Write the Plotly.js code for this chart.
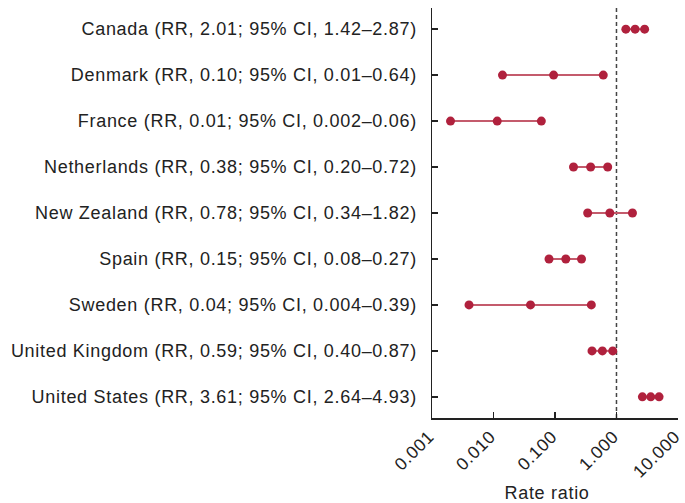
<!DOCTYPE html>
<html>
<head>
<meta charset="utf-8">
<script src="https://cdn.plot.ly/plotly-3.0.1.min.js"></script>
<style>
html,body{margin:0;padding:0;background:#fff;}
#chart{width:685px;height:503px;}
#chart svg text{letter-spacing:0.7px;}
</style>
</head>
<body>
<div id="chart"></div>
<script>
const countries = ["Canada","Denmark","France","Netherlands","New Zealand","Spain","Sweden","United Kingdom","United States"];
const labels = [
  "Canada (RR, 2.01; 95% CI, 1.42–2.87)",
  "Denmark (RR, 0.10; 95% CI, 0.01–0.64)",
  "France (RR, 0.01; 95% CI, 0.002–0.06)",
  "Netherlands (RR, 0.38; 95% CI, 0.20–0.72)",
  "New Zealand (RR, 0.78; 95% CI, 0.34–1.82)",
  "Spain (RR, 0.15; 95% CI, 0.08–0.27)",
  "Sweden (RR, 0.04; 95% CI, 0.004–0.39)",
  "United Kingdom (RR, 0.59; 95% CI, 0.40–0.87)",
  "United States (RR, 3.61; 95% CI, 2.64–4.93)"
];
const rr    = [2.01, 0.095, 0.0115, 0.38, 0.78, 0.15, 0.04, 0.59, 3.61];
const lower = [1.42, 0.014, 0.002, 0.20, 0.34, 0.08, 0.004, 0.40, 2.64];
const upper = [2.87, 0.61, 0.06, 0.72, 1.82, 0.27, 0.39, 0.87, 4.93];
const xTickVals = [0.001, 0.01, 0.1, 1, 10];
const xTickText = ["0.001", "0.010", "0.100", "1.000", "10.000"];
const xTitle = "Rate ratio";

const xs = [], ys = [];
for (let i = 0; i < labels.length; i++) {
  xs.push(lower[i], rr[i], upper[i], null);
  ys.push(labels[i], labels[i], labels[i], null);
}
const red = "#B0213D";
const trace = {
  type: "scatter", mode: "lines+markers",
  x: xs, y: ys, connectgaps: false,
  line: {color: "#C45B6C", width: 2},
  marker: {color: red, size: 9, line: {width: 0}},
  hoverinfo: "skip", showlegend: false
};
const fam = "Liberation Sans, Arial, sans-serif";
const layout = {
  width: 685, height: 503,
  margin: {l: 432, r: 7, t: 8, b: 85},
  paper_bgcolor: "#fff", plot_bgcolor: "#fff",
  font: {family: fam, color: "#222"},
  xaxis: {
    type: "log", range: [-3, 1.0005],
    tickvals: xTickVals, ticktext: xTickText,
    tickangle: -45, tickfont: {size: 17.5, family: fam, color: "#222"},
    ticklabeloverflow: "allow", ticklabelshift: -3,
    ticks: "inside", ticklen: 6, tickwidth: 1.5, tickcolor: "#222",
    showline: true, linecolor: "#222", linewidth: 1.5,
    showgrid: false, zeroline: false
  },
  yaxis: {
    type: "category", categoryorder: "array", categoryarray: labels,
    range: [8.46, -0.46],
    tickfont: {size: 18, family: fam, color: "#222"},
    ticks: "inside", ticklen: 6, tickwidth: 1.5, tickcolor: "#222",
    ticklabelstandoff: 10,
    showline: true, linecolor: "#222", linewidth: 1.5,
    showgrid: false, zeroline: false
  },
  annotations: [{
    text: xTitle, xref: "paper", yref: "paper", x: 0.467, y: 0,
    xanchor: "center", yanchor: "middle", yshift: -75, showarrow: false,
    font: {size: 18, family: fam, color: "#222"}
  }],
  shapes: [{
    type: "line", xref: "x", yref: "paper", x0: 1, x1: 1, y0: 0, y1: 1,
    line: {color: "#444", width: 1.5, dash: "4px,3px"}, layer: "below"
  }]
};
Plotly.newPlot("chart", [trace], layout, {displayModeBar: false, staticPlot: true});
</script>
</body>
</html>
